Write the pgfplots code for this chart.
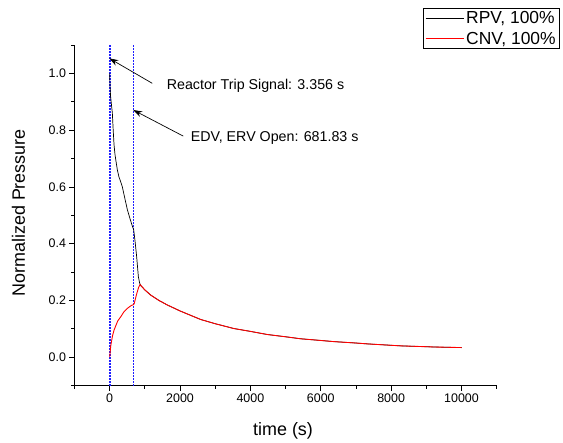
\documentclass[border=0pt]{standalone}
\usepackage{fontspec}
\setmainfont{Liberation Sans}
\usepackage{pgfplots}
\pgfplotsset{compat=1.18}
\usetikzlibrary{arrows.meta}
\definecolor{markerblue}{RGB}{30,30,255}

% RPV pressure, normalized
\pgfplotstableread{
t y
0 1.0
8 0.96
25 0.92
50 0.89
76 0.86
100 0.80
123 0.75
150 0.715
180 0.69
218 0.66
260 0.637
293 0.625
330 0.612
360 0.60
430 0.56
502 0.52
580 0.487
644 0.462
682 0.449
720 0.41
767 0.354
815 0.284
850 0.262
880 0.253
1000 0.237
1165 0.219
1400 0.200
1639 0.184
2000 0.163
2585 0.133
3000 0.118
3532 0.101
4000 0.091
4480 0.080
5000 0.072
5426 0.065
6000 0.059
6372 0.055
7000 0.050
7320 0.047
8000 0.042
8267 0.040
9000 0.037
9214 0.036
10000 0.034
}\rpv

% CNV pressure, normalized
\pgfplotstableread{
t y
0 0.0
30 0.04
80 0.075
123 0.095
170 0.11
230 0.128
312 0.142
400 0.159
502 0.172
600 0.181
682 0.186
700 0.19
760 0.22
820 0.245
861 0.256
900 0.251
1000 0.237
1165 0.219
1400 0.200
1639 0.184
2000 0.163
2585 0.133
3000 0.118
3532 0.101
4000 0.091
4480 0.080
5000 0.072
5426 0.065
6000 0.059
6372 0.055
7000 0.050
7320 0.047
8000 0.042
8267 0.040
9000 0.037
9214 0.036
10000 0.034
}\cnv

\begin{document}
\begin{tikzpicture}
\begin{axis}[
    name=ax,
    scale only axis,
    width=422.2bp, height=340.6bp,
    xmin=-1000, xmax=11000,
    ymin=-0.1, ymax=1.1,
    axis x line*=bottom,
    axis y line*=left,
    axis line style={line width=0.8pt},
    xtick={0,2000,...,10000},
    minor xtick={-1000,1000,...,11000},
    ytick={0,0.2,...,1.0},
    minor ytick={-0.1,0.1,...,1.1},
    scaled x ticks=false,
    tick align=outside,
    major tick length=5bp,
    minor tick length=3bp,
    tick style={black, line width=0.8pt},
    /pgf/number format/assume math mode=true,
    xticklabel style={font=\fontsize{12.5}{14}\selectfont, /pgf/number format/1000 sep={}},
    yticklabel style={font=\fontsize{12.5}{14}\selectfont, /pgf/number format/fixed, /pgf/number format/fixed zerofill, /pgf/number format/precision=1},
    xlabel={time (s)},
    ylabel={Normalized Pressure},
    xlabel style={font=\fontsize{18}{20}\selectfont, at={(axis description cs:0.494,-0.133)}, anchor=center},
    ylabel style={font=\fontsize{18}{20}\selectfont, at={(axis description cs:-0.133,0.507)}, anchor=center, rotate=0},
    legend style={at={(axis description cs:0.8254,1.1086)}, anchor=north west,
        draw=black, line width=0.6pt, font=\fontsize{17.5}{19}\selectfont,
        inner xsep=2bp, inner ysep=1bp, row sep=3bp, cells={anchor=west}},
    legend image code/.code={\draw[#1] (0bp,0bp) -- (38bp,0bp);},
    clip=false,
]
% event markers (trip signal, valve opening)
\addplot[draw=markerblue, line width=1.6pt, dash pattern=on 1.5bp off 1.5bp, forget plot] coordinates {(3.356,-0.1) (3.356,1.1)};
\addplot[draw=markerblue, line width=1.6pt, dash pattern=on 1.5bp off 1.5bp, forget plot] coordinates {(681.83,-0.1) (681.83,1.1)};
\addplot[black, line width=0.7pt] table[x=t, y=y] {\rpv};
\addlegendentry{RPV, 100\%}
\addplot[red, line width=0.9pt] table[x=t, y=y] {\cnv};
\addlegendentry{CNV, 100\%}
\draw[-{Stealth[length=9bp,width=6bp]}, line width=0.7pt] (axis cs:1210,0.965) -- (axis cs:-11,1.053);
\draw[-{Stealth[length=9bp,width=6bp]}, line width=0.7pt] (axis cs:2091,0.779) -- (axis cs:670,0.871);
\node[anchor=west, inner sep=0pt, font=\fontsize{14.3}{16}\selectfont] at (axis cs:1619,0.956) {Reactor Trip Signal: 3.356 s};
\node[anchor=west, inner sep=0pt, font=\fontsize{14.3}{16}\selectfont] at (axis cs:2301,0.771) {EDV, ERV Open: 681.83 s};
\end{axis}
\pgfresetboundingbox
\path (ax.south west) ++(-74.5bp,-57.4bp) rectangle ++(563bp,443bp);
\end{tikzpicture}
\end{document}
